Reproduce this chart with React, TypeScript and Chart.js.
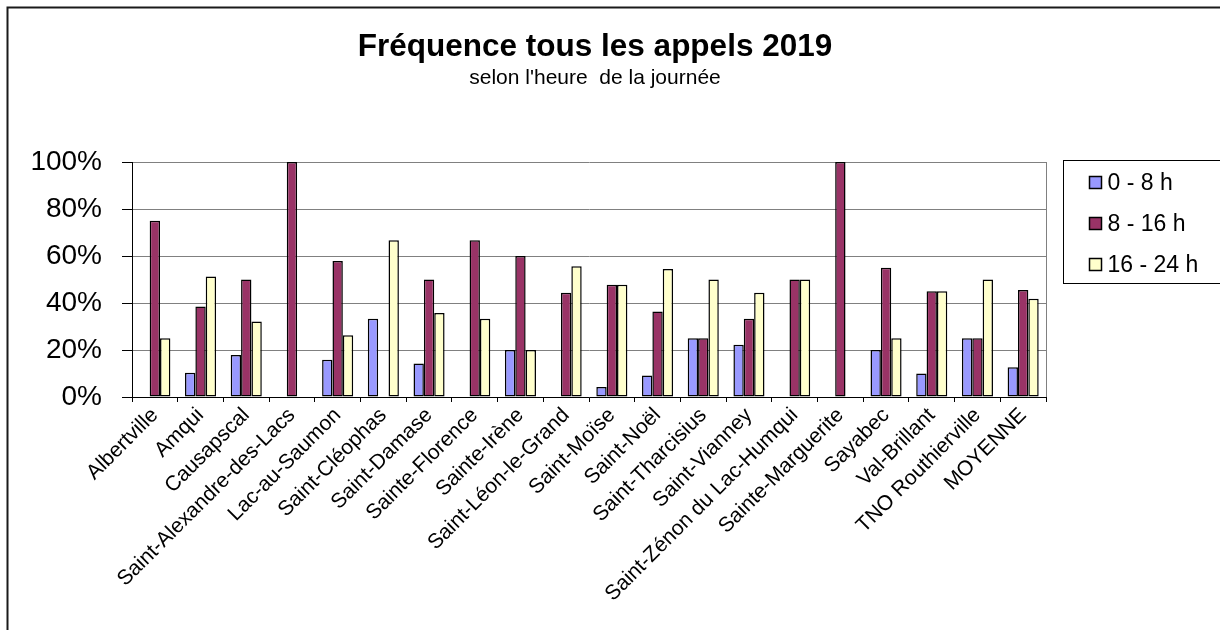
import React, { useEffect, useRef } from "react";
import { Chart, registerables } from "chart.js";

Chart.register(...registerables);

const categories = [
  "Albertville",
  "Amqui",
  "Causapscal",
  "Saint-Alexandre-des-Lacs",
  "Lac-au-Saumon",
  "Saint-Cléophas",
  "Saint-Damase",
  "Sainte-Florence",
  "Sainte-Irène",
  "Saint-Léon-le-Grand",
  "Saint-Moïse",
  "Saint-Noël",
  "Saint-Tharcisius",
  "Saint-Vianney",
  "Saint-Zénon du Lac-Humqui",
  "Sainte-Marguerite",
  "Sayabec",
  "Val-Brillant",
  "TNO Routhierville",
  "MOYENNE",
];

const seriesNames = ["0 - 8 h", "8 - 16 h", "16 - 24 h"];

const night = [0, 10.3, 17.9, 0, 15.8, 33.3, 14.3, 0, 20, 0, 4.3, 9.1, 25, 22.2, 0, 0, 20, 10, 25, 12.7];
const day = [75, 38.5, 50, 100, 57.9, 0, 50, 66.7, 60, 44.4, 47.8, 36.4, 25, 33.3, 50, 100, 55, 45, 25, 45.5];
const evening = [25, 51.3, 32.1, 0, 26.3, 66.7, 35.7, 33.3, 20, 55.6, 47.8, 54.5, 50, 44.4, 50, 0, 25, 45, 50, 41.8];

const yTicks = [0, 20, 40, 60, 80, 100];

const colors = ["#9999FF", "#993366", "#FFFFCC"];
const FONT = "'Liberation Sans', Arial, sans-serif";

const framePlugin = {
  id: "frame",
  beforeDraw(chart: any) {
    const ctx = chart.ctx;
    ctx.save();
    ctx.fillStyle = "#ffffff";
    ctx.fillRect(0, 0, chart.width, chart.height);
    ctx.strokeStyle = "#1a1a1a";
    ctx.lineWidth = 2;
    ctx.beginPath();
    ctx.moveTo(7.5, chart.height);
    ctx.lineTo(7.5, 7.5);
    ctx.lineTo(chart.width, 7.5);
    ctx.stroke();
    ctx.restore();
  },
  afterDatasetsDraw(chart: any) {
    const { ctx, chartArea } = chart;
    ctx.save();
    ctx.strokeStyle = "#808080";
    ctx.lineWidth = 1;
    ctx.beginPath();
    ctx.moveTo(Math.round(chartArea.right) + 0.5, chartArea.top);
    ctx.lineTo(Math.round(chartArea.right) + 0.5, chartArea.bottom);
    ctx.stroke();
    ctx.restore();
  },
  afterDraw(chart: any) {
    const { ctx, chartArea } = chart;
    const bx = Math.round(chartArea.right) + 17.5;
    const by = Math.round(chartArea.top) - 1.5;
    ctx.save();
    ctx.strokeStyle = "#000000";
    ctx.lineWidth = 1;
    ctx.strokeRect(bx, by, chart.width - bx + 10, 123);
    ctx.font = `23px ${FONT}`;
    ctx.textBaseline = "middle";
    ctx.textAlign = "left";
    chart.data.datasets.forEach((ds: any, i: number) => {
      const cy = by + 22 + i * 41;
      ctx.fillStyle = ds.backgroundColor;
      ctx.fillRect(bx + 26, cy - 6, 12, 12);
      ctx.lineWidth = 1.5;
      ctx.strokeStyle = "#000";
      ctx.strokeRect(bx + 26, cy - 6, 12, 12);
      ctx.fillStyle = "#000";
      ctx.fillText(ds.label, bx + 44, cy + 1);
    });
    ctx.restore();
  },
};

export default function App() {
  const ref = useRef<HTMLCanvasElement | null>(null);

  useEffect(() => {
    if (!ref.current) return;
    const values = [night, day, evening];
    const chart = new Chart(ref.current, {
      type: "bar",
      data: {
        labels: categories,
        datasets: seriesNames.map((name, i) => ({
          label: name,
          data: values[i],
          backgroundColor: colors[i],
          borderColor: "#000000",
          borderWidth: 1.5,
          borderSkipped: false,
          categoryPercentage: 0.68,
          barPercentage: 1.0,
        })),
      },
      options: {
        animation: false,
        responsive: false,
        maintainAspectRatio: false,
        layout: { padding: { left: 0, right: 30, top: 0, bottom: 0 } },
        plugins: {
          legend: { display: false },
          tooltip: { enabled: false },
          title: {
            display: true,
            text: "Fréquence tous les appels 2019",
            color: "#000",
            font: { family: FONT, size: 31.5, weight: "bold", lineHeight: 1.2 },
            padding: { top: 28, bottom: 0 },
          },
          subtitle: {
            display: true,
            text: "selon l'heure  de la journée",
            color: "#000",
            font: { family: FONT, size: 21, lineHeight: 1.2 },
            padding: { top: 0, bottom: 71 },
          },
        },
        scales: {
          x: {
            offset: true,
            grid: {
              display: true,
              offset: true,
              drawOnChartArea: false,
              drawTicks: true,
              tickLength: 5,
              tickColor: "#000",
            },
            border: { display: true, color: "#000", width: 1 },
            ticks: {
              autoSkip: false,
              minRotation: 45,
              maxRotation: 45,
              padding: 1,
              color: "#000",
              font: { family: FONT, size: 21 },
            },
            afterFit: (s: any) => {
              s.height = 233;
            },
          },
          y: {
            min: 0,
            max: 100,
            afterBuildTicks: (s: any) => {
              s.ticks = yTicks.map((v) => ({ value: v }));
            },
            grid: {
              color: "#808080",
              lineWidth: 1,
              drawTicks: true,
              tickLength: 10,
              tickColor: "#000",
            },
            border: { display: true, color: "#000", width: 1 },
            ticks: {
              padding: 20,
              color: "#000",
              font: { family: FONT, size: 28 },
              callback: (v: any) => `${v}%`,
            },
            afterFit: (s: any) => {
              s.width = 132;
            },
          },
          y2: {
            position: "right",
            display: true,
            grid: { display: false, drawTicks: false },
            border: { display: false },
            ticks: { display: false },
            afterFit: (s: any) => {
              s.width = 1220 - 30 - 1046;
            },
          },
        },
      },
      plugins: [framePlugin],
    } as any);
    return () => chart.destroy();
  }, []);

  return (
    <div style={{ position: "fixed", left: 0, top: 0, width: 1220, height: 630, background: "#fff" }}>
      <canvas ref={ref} width={1220} height={630} style={{ display: "block", width: 1220, height: 630 }} />
    </div>
  );
}
